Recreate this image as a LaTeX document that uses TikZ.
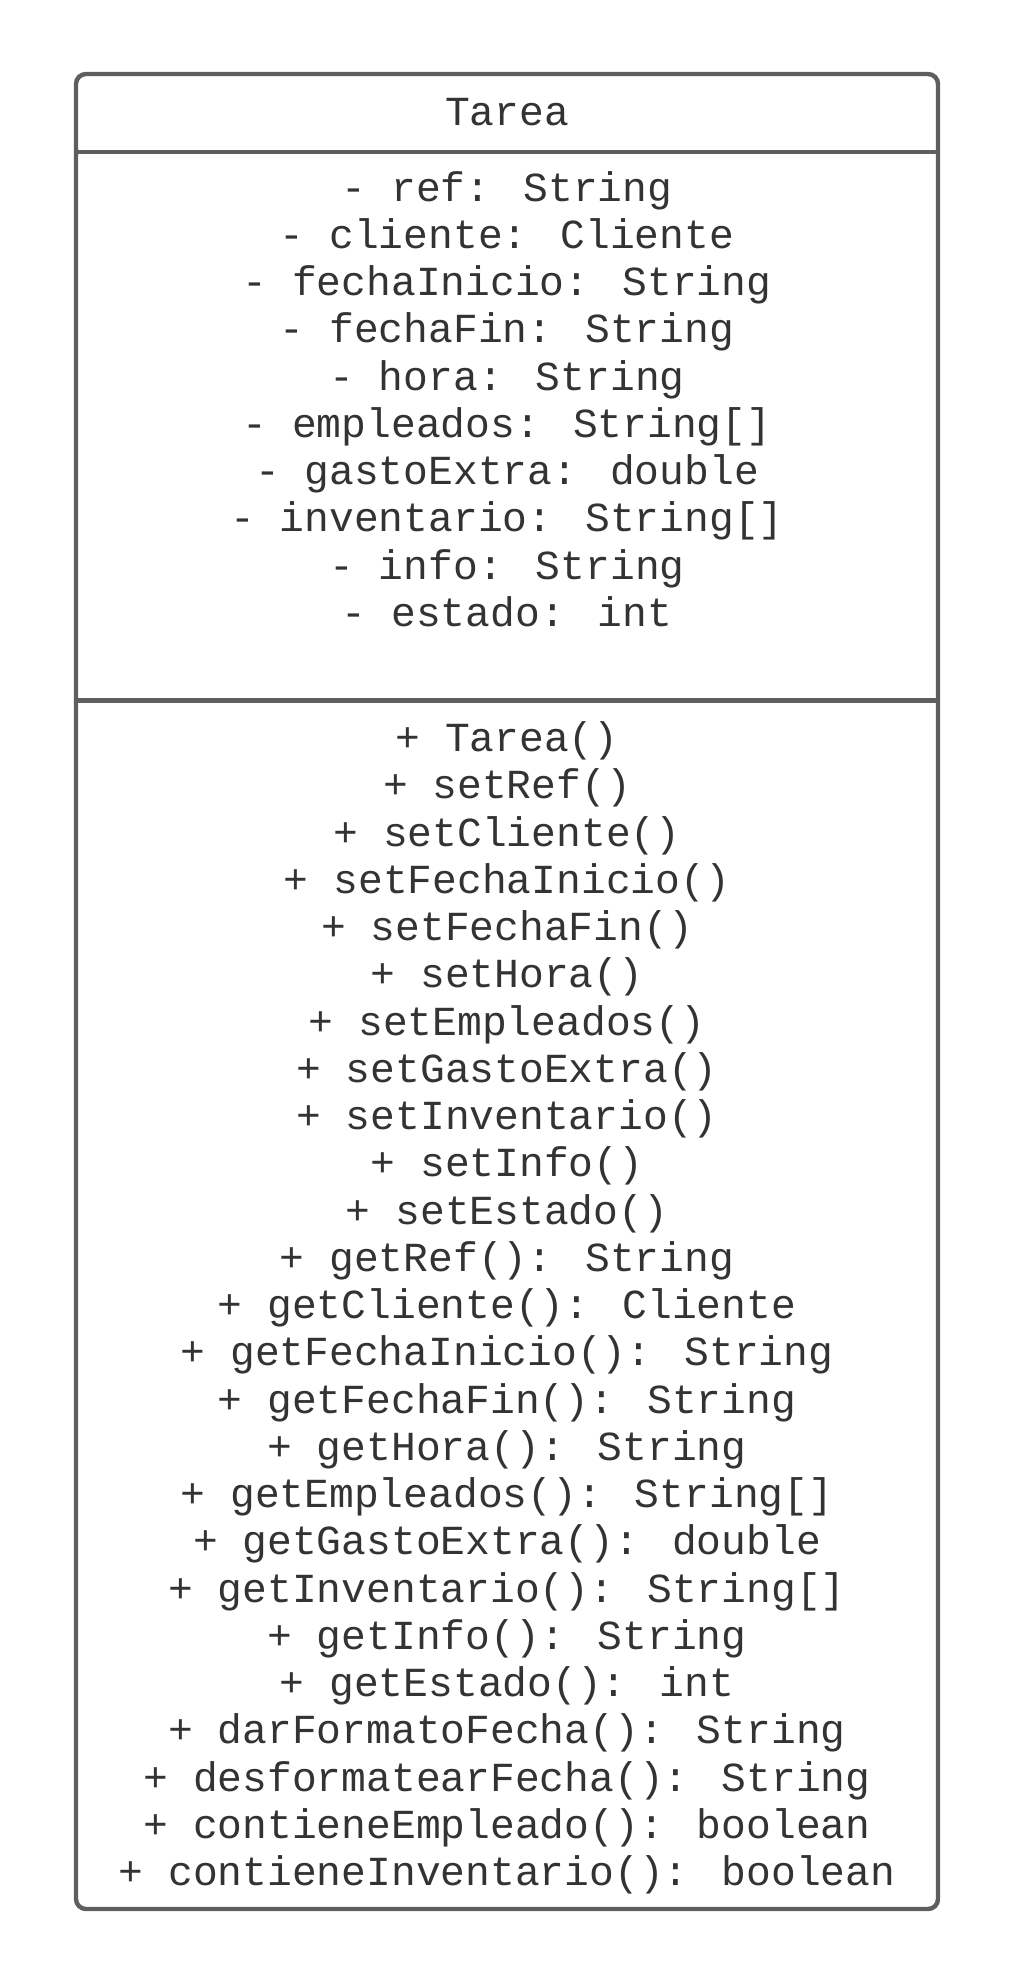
\documentclass[tikz,border=0pt]{standalone}
\usepackage{fontspec}
\newfontfamily\umlfont{Liberation Mono}
\usetikzlibrary{positioning}
\definecolor{borde}{HTML}{5E5E5E}
\definecolor{texto}{HTML}{333333}

\begin{document}
\begin{tikzpicture}[x=0.5pt, y=-0.5pt, node distance={23.625pt},
		fila/.style = {font=\umlfont\fontsize{20.65}{24}\selectfont, text=texto, inner sep=0pt, text height=13.6pt, text depth=0pt},
		marco/.style = {draw=borde, line width=2.2pt}]
		\useasboundingbox (0,0) rectangle (1013,1986);
		\draw[marco, rounded corners=5pt] (76,74) rectangle (938,1909);
		\draw[marco] (76,152) -- (938,152);
		\draw[marco] (76,700.5) -- (938,700.5);
		\node[fila] (t) at (507,112) {Tarea};
		\node[fila] (a1) at (507,187.5) {- ref: String};
		\node[fila] (a2) [below of=a1] {- cliente: Cliente};
		\node[fila] (a3) [below of=a2] {- fechaInicio: String};
		\node[fila] (a4) [below of=a3] {- fechaFin: String};
		\node[fila] (a5) [below of=a4] {- hora: String};
		\node[fila] (a6) [below of=a5] {- empleados: String[]};
		\node[fila] (a7) [below of=a6] {- gastoExtra: double};
		\node[fila] (a8) [below of=a7] {- inventario: String[]};
		\node[fila] (a9) [below of=a8] {- info: String};
		\node[fila] (a10) [below of=a9] {- estado: int};
		\node[fila] (m1) at (507,738) {+ Tarea()};
		\node[fila] (m2) [below of=m1] {+ setRef()};
		\node[fila] (m3) [below of=m2] {+ setCliente()};
		\node[fila] (m4) [below of=m3] {+ setFechaInicio()};
		\node[fila] (m5) [below of=m4] {+ setFechaFin()};
		\node[fila] (m6) [below of=m5] {+ setHora()};
		\node[fila] (m7) [below of=m6] {+ setEmpleados()};
		\node[fila] (m8) [below of=m7] {+ setGastoExtra()};
		\node[fila] (m9) [below of=m8] {+ setInventario()};
		\node[fila] (m10) [below of=m9] {+ setInfo()};
		\node[fila] (m11) [below of=m10] {+ setEstado()};
		\node[fila] (m12) [below of=m11] {+ getRef(): String};
		\node[fila] (m13) [below of=m12] {+ getCliente(): Cliente};
		\node[fila] (m14) [below of=m13] {+ getFechaInicio(): String};
		\node[fila] (m15) [below of=m14] {+ getFechaFin(): String};
		\node[fila] (m16) [below of=m15] {+ getHora(): String};
		\node[fila] (m17) [below of=m16] {+ getEmpleados(): String[]};
		\node[fila] (m18) [below of=m17] {+ getGastoExtra(): double};
		\node[fila] (m19) [below of=m18] {+ getInventario(): String[]};
		\node[fila] (m20) [below of=m19] {+ getInfo(): String};
		\node[fila] (m21) [below of=m20] {+ getEstado(): int};
		\node[fila] (m22) [below of=m21] {+ darFormatoFecha(): String};
		\node[fila] (m23) [below of=m22] {+ desformatearFecha(): String};
		\node[fila] (m24) [below of=m23] {+ contieneEmpleado(): boolean};
		\node[fila] (m25) [below of=m24] {+ contieneInventario(): boolean};
	\end{tikzpicture}
\end{document}
